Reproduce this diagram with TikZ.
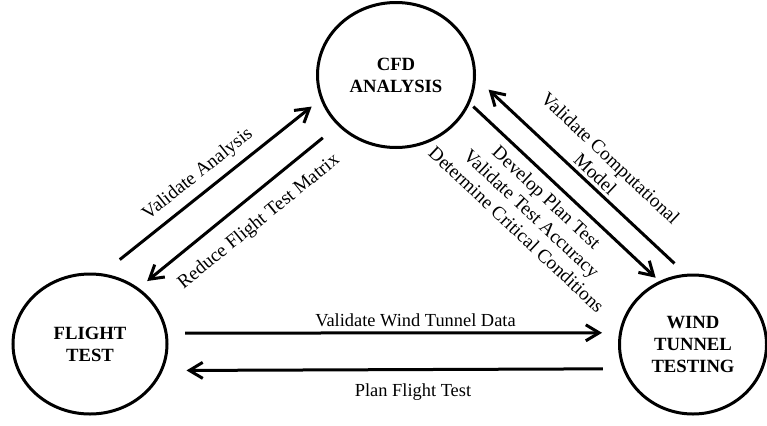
\documentclass[tikz,border=0pt]{standalone}
\usepackage{fontspec}
\setmainfont{Liberation Serif}
\usetikzlibrary{shapes.geometric,arrows.meta}

\tikzset{every picture/.style={line width=2.25pt}}
\tikzset{
  bubble/.style={draw,ellipse,inner sep=0pt,align=center,font=\fontsize{14}{16.5}\selectfont\bfseries},
  flowarrow/.style={-{Straight Barb[length=10pt,width=12pt]}},
  lbl/.style={inner sep=0.75pt,align=center,font=\fontsize{13.8}{16.5}\selectfont},
  slantlbl/.style={lbl,font=\fontsize{14.4}{16.5}\selectfont}
}

\begin{document}
\begin{tikzpicture}[x=0.75pt,y=0.75pt,yscale=-1,xscale=1]
\useasboundingbox (0,0) rectangle (767,425);

%Circles
\node [bubble,minimum width=117.75pt,minimum height=108.75pt] (cfd) at (396,75) {CFD\\ANALYSIS};
\node [bubble,minimum width=115.5pt,minimum height=105pt] (flight) at (90,344) {FLIGHT\\TEST};
\node [bubble,minimum width=110.25pt,minimum height=104.25pt] (wind) at (693,344.5) {WIND\\TUNNEL\\TESTING};

%Straight Lines
\draw [flowarrow,shorten <=16.6pt,shorten >=8.5pt] (flight.80.6) -- (cfd.198);
\draw [flowarrow,shorten <=14.4pt,shorten >=8.2pt] (cfd.221.3) -- (flight.49.4);
\draw [flowarrow,shorten <=3.5pt,shorten >=3.7pt] (cfd.339) -- (wind.118.2);
\draw [flowarrow,shorten <=11.4pt,shorten >=13pt] (wind.96.5) -- (cfd.358.5);
\draw [flowarrow,shorten <=13.1pt,shorten >=12.75pt] (flight.8.2) -- (wind.171);
\draw [flowarrow,shorten <=14.8pt,shorten >=17.7pt] (wind.199.6) -- (flight.340.8);

% Text Node
\node [slantlbl,rotate=38.6] (va) at (198,174.5) {Validate Analysis};
% Text Node
\node [slantlbl,rotate=39.1] (rftm) at (259,222) {Reduce Flight Test Matrix};
% Text Node
\node [slantlbl,rotate=-43.3] (vcm) at (603,166) {Validate Computational\\Model};
% Text Node
\node [slantlbl,rotate=-43.2] (dpt) at (531.7,213.3) {Develop Plan Test\\Validate Test Accuracy\\Determine Critical Conditions};
% Text Node
\node [lbl,anchor=base] (vwtd) at (415.5,326) {Validate Wind Tunnel Data};
% Text Node
\node [lbl,anchor=base] (pft) at (413,396) {Plan Flight Test};

\end{tikzpicture}
\end{document}
